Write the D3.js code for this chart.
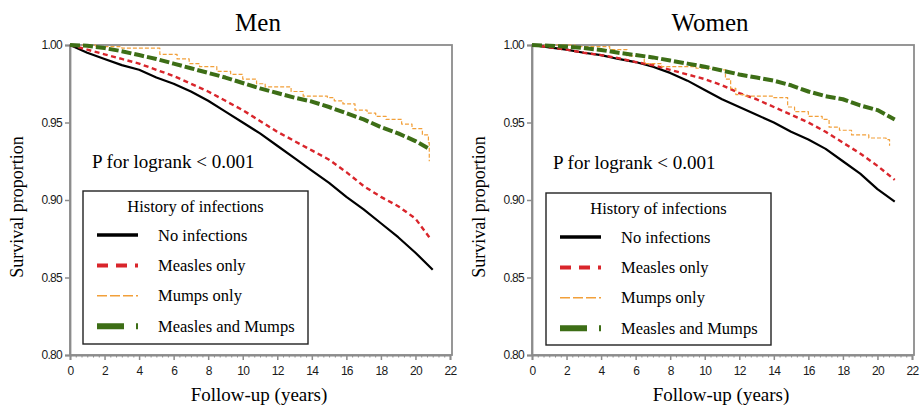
<!DOCTYPE html>
<html><head><meta charset="utf-8">
<script src="https://cdn.jsdelivr.net/npm/d3@7"></script>
<style>
body{margin:0;background:#fff;}
svg{display:block;}
.serif{font-family:"Liberation Serif","DejaVu Serif","Times New Roman",Times,serif;}
</style></head>
<body><svg id="c" width="921" height="407"></svg>
<script>
// ---------- data ----------
const panelTitles = ["Men", "Women"];
const seriesNames = ["No infections", "Measles only", "Mumps only", "Measles and Mumps"];
const xTicks = [0,2,4,6,8,10,12,14,16,18,20,22];
const yTicks = [0.80,0.85,0.90,0.95,1.00];
const pText = "P for logrank < 0.001";

const yearsFull = [0,1,2,3,4,5,6,7,8,9,10,11,12,13,14,15,16,17,18,19,20,21];
const yearsMenShort = [0,1,2,3,4,5,6,7,8,9,10,11,12,13,14,15,16,17,18,19,20,20.8];

const menNoInf = [1.000,0.995,0.991,0.987,0.984,0.979,0.975,0.970,0.964,0.957,0.950,0.943,0.935,0.927,0.919,0.911,0.902,0.894,0.885,0.876,0.866,0.855];
const menMeasles = [1.000,0.997,0.994,0.991,0.988,0.984,0.980,0.975,0.970,0.964,0.958,0.951,0.944,0.938,0.932,0.926,0.918,0.909,0.902,0.896,0.888,0.876];
const menBoth = [1.000,0.9995,0.998,0.996,0.9935,0.991,0.988,0.985,0.982,0.979,0.9755,0.972,0.969,0.966,0.9635,0.960,0.956,0.952,0.947,0.943,0.938,0.933];
const menMumpsT = [0,1.5,3,5.2,6.2,6.9,7.5,8.5,9.3,10,10.8,11.3,12.8,13.5,14.9,15.3,15.8,16.5,17.2,17.7,18.3,19.2,19.8,20.4,20.75,20.8];
const menMumpsS = [1.000,0.999,0.998,0.994,0.991,0.988,0.986,0.983,0.981,0.978,0.975,0.973,0.970,0.967,0.966,0.964,0.962,0.958,0.956,0.954,0.952,0.949,0.946,0.942,0.937,0.925];

const womenNoInf = [1.000,0.9985,0.997,0.995,0.9935,0.991,0.989,0.986,0.982,0.977,0.971,0.965,0.960,0.955,0.950,0.944,0.939,0.933,0.925,0.917,0.907,0.899];
const womenMeasles = [1.000,0.9985,0.997,0.995,0.9935,0.9915,0.989,0.987,0.984,0.981,0.978,0.974,0.969,0.965,0.960,0.955,0.950,0.944,0.937,0.930,0.922,0.913];
const womenBoth = [1.000,0.9995,0.999,0.998,0.9968,0.995,0.9935,0.992,0.990,0.988,0.986,0.9835,0.981,0.979,0.977,0.974,0.970,0.967,0.965,0.961,0.958,0.952];
const womenMumpsT = [0,2.5,4.5,5.5,6.5,7.5,9.5,10.8,11.2,11.5,11.8,12.3,14.0,14.8,15.2,16,16.8,17.2,17.8,18.5,19.5,20.5,20.7];
const womenMumpsS = [1.000,0.999,0.997,0.993,0.988,0.986,0.985,0.984,0.978,0.972,0.968,0.967,0.966,0.960,0.957,0.954,0.952,0.947,0.945,0.942,0.940,0.939,0.935];

// ---------- styles ----------
const styles = [
  {color:"#000000", width:2.2, dash:null, legDash:null, legWidth:3.5, step:false},
  {color:"#d9252b", width:2.4, dash:"5,3.5", legDash:"11,8", legWidth:4, step:false},
  {color:"#f2a03a", width:1.2, dash:"4,2", legDash:"10,3", legWidth:1.6, step:true},
  {color:"#3d6e16", width:4, dash:"10,3", legDash:"27,12", legWidth:6, step:false}
];

const panels = [
  {title:panelTitles[0], ox:70, ox2:450, titleX:258, series:[
      {t:yearsFull, s:menNoInf},{t:yearsMenShort, s:menMeasles},{t:menMumpsT, s:menMumpsS},{t:yearsMenShort, s:menBoth}],
   leg:{x:83,y:191,w:225,h:153}, p:{x:92,y:168}},
  {title:panelTitles[1], ox:532, ox2:912, titleX:710, series:[
      {t:yearsFull, s:womenNoInf},{t:yearsFull, s:womenMeasles},{t:womenMumpsT, s:womenMumpsS},{t:yearsFull, s:womenBoth}],
   leg:{x:546,y:193,w:225,h:152}, p:{x:553,y:169}}
];

const svg = d3.select("#c");
const sans = "'Liberation Sans',Arial,sans-serif";
const plotTop = 45, plotBottom = 355;

panels.forEach(P => {
  const x = d3.scaleLinear().domain([0,22]).range([P.ox, P.ox2]);
  const y = d3.scaleLinear().domain([0.80,1.00]).range([plotBottom, plotTop]);
  const g = svg.append("g");

  // frame
  g.append("rect").attr("x",P.ox).attr("y",plotTop).attr("width",P.ox2-P.ox+2).attr("height",plotBottom-plotTop)
    .attr("fill","none").attr("stroke","#8c8c8c").attr("stroke-width",1.8);

  // x axis
  const xa = g.append("g").attr("transform",`translate(0,${plotBottom})`)
    .call(d3.axisBottom(x).tickValues(xTicks).tickFormat(d3.format("d")).tickSize(5).tickPadding(6));
  const minor = d3.range(0, 22.0001, 1/3).filter(v => Math.abs(v/2 - Math.round(v/2)) > 1e-6);
  g.append("g").attr("transform",`translate(0,${plotBottom})`)
    .call(d3.axisBottom(x).tickValues(minor).tickFormat("").tickSize(2.5))
    .call(a => a.select(".domain").remove())
    .selectAll("line").attr("stroke","#8c8c8c").attr("stroke-width",1);
  // y axis
  const ya = g.append("g").attr("transform",`translate(${P.ox},0)`)
    .call(d3.axisLeft(y).tickValues(yTicks).tickFormat(d3.format(".2f")).tickSize(5).tickPadding(3));
  [xa, ya].forEach(a => {
    a.select(".domain").attr("stroke","#8c8c8c").attr("stroke-width",1.8);
    a.selectAll(".tick line").attr("stroke","#8c8c8c").attr("stroke-width",1.5);
    a.selectAll("text").attr("font-family",sans).attr("font-size",12).attr("fill","#1a1a1a")
      .attr("letter-spacing","-0.7px");
  });

  // curves
  P.series.forEach((S, i) => {
    const st = styles[i];
    const pts = S.t.map((t,k) => [t, S.s[k]]);
    const line = d3.line().x(d => x(d[0])).y(d => y(d[1]))
      .curve(st.step ? d3.curveStepAfter : d3.curveLinear);
    g.append("path").datum(pts).attr("d", line).attr("fill","none")
      .attr("stroke", st.color).attr("stroke-width", st.width)
      .attr("stroke-dasharray", st.dash).attr("stroke-linejoin","round");
  });

  // title
  g.append("text").attr("class","serif").attr("x",P.titleX).attr("y",31).attr("text-anchor","middle")
    .attr("font-size",25).text(P.title);
  // axis labels
  g.append("text").attr("class","serif").attr("x",(P.ox+P.ox2)/2-1).attr("y",401).attr("text-anchor","middle")
    .attr("font-size",19).text("Follow-up (years)");
  g.append("text").attr("class","serif").attr("transform",`translate(${P.ox-47},${(plotTop+plotBottom)/2+7}) rotate(-90)`)
    .attr("text-anchor","middle").attr("font-size",18).text("Survival proportion");

  // p text
  g.append("text").attr("class","serif").attr("x",P.p.x).attr("y",P.p.y).attr("font-size",19).text(pText);

  // legend
  const L = P.leg;
  g.append("rect").attr("x",L.x).attr("y",L.y).attr("width",L.w).attr("height",L.h)
    .attr("fill","#fff").attr("stroke","#222").attr("stroke-width",1.4);
  g.append("text").attr("class","serif").attr("x",L.x+L.w/2).attr("y",L.y+21).attr("text-anchor","middle")
    .attr("font-size",16.5).text("History of infections");
  seriesNames.forEach((n,i) => {
    const st = styles[i];
    const ly = L.y + 44 + i*30.4;
    g.append("line").attr("x1",L.x+14).attr("x2",L.x+55).attr("y1",ly).attr("y2",ly)
      .attr("stroke",st.color).attr("stroke-width",st.legWidth).attr("stroke-dasharray",st.legDash);
    g.append("text").attr("class","serif").attr("x",L.x+75).attr("y",ly+5.5).attr("font-size",16.5).text(n);
  });
});
</script></body></html>
